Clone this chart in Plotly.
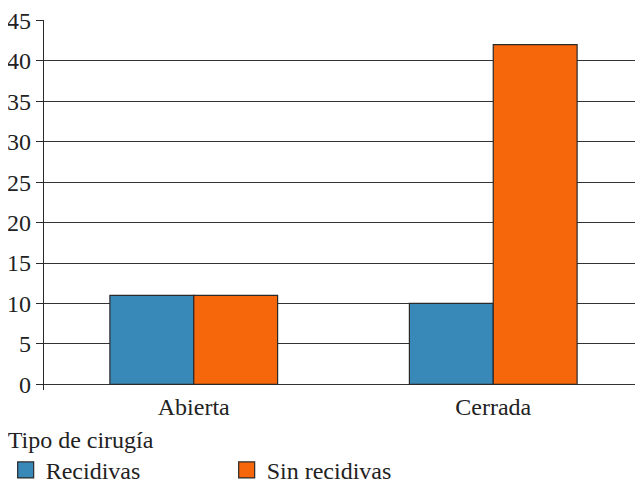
import plotly.graph_objects as go

# Data
categorias = ["Abierta", "Cerrada"]
recidivas = [11, 10]
sin_recidivas = [11, 42]
y_ticks = [0, 5, 10, 15, 20, 25, 30, 35, 40, 45]

azul = "#3889b8"
naranja = "#f6660a"
borde = "#2a2a2a"
fuente = dict(family="Liberation Serif", size=24, color="#222222")

fig = go.Figure()

# Bars (legend handled by proxy markers to get bigger swatches)
fig.add_trace(go.Bar(x=categorias, y=recidivas, name="Recidivas",
                     marker=dict(color=azul, line=dict(color=borde, width=1.2)),
                     showlegend=False))
fig.add_trace(go.Bar(x=categorias, y=sin_recidivas, name="Sin recidivas",
                     marker=dict(color=naranja, line=dict(color=borde, width=1.2)),
                     showlegend=False))

# Legend proxies
for nombre, color in [("Recidivas", azul), ("Sin recidivas", naranja)]:
    fig.add_trace(go.Scatter(x=[None], y=[None], mode="markers", name=nombre,
                             marker=dict(symbol="square", size=22, color=color,
                                         line=dict(color=borde, width=1.2))))

# page body has an 8px margin, so the figure is sized to the visible area
fig.update_layout(
    width=635, height=482,
    margin=dict(l=36, r=0, t=12, b=100, autoexpand=False),
    paper_bgcolor="white", plot_bgcolor="white",
    font=fuente,
    barmode="group", bargap=0.44, bargroupgap=0,
    legend=dict(orientation="h", x=-0.064, xanchor="left", y=-0.072, yanchor="top",
                bgcolor="rgba(0,0,0,0)",
                title=dict(text="Tipo de cirugía", side="top", font=fuente),
                entrywidth=176, entrywidthmode="pixels", itemsizing="trace",
                font=fuente, tracegroupgap=0),
)

fig.update_xaxes(showgrid=False, showline=False, zeroline=False,
                 ticks="", tickfont=fuente, ticklabelstandoff=0)
fig.update_yaxes(range=[-0.7, 45.05], tickvals=y_ticks, ticks="outside", ticklen=7,
                 tickcolor=borde, tickwidth=1.3,
                 showline=True, linecolor=borde, linewidth=1.3,
                 showgrid=True, gridcolor="#333333", gridwidth=1.3,
                 zeroline=False, tickfont=fuente, ticklabeloverflow="allow")

fig.write_html("out.html")
